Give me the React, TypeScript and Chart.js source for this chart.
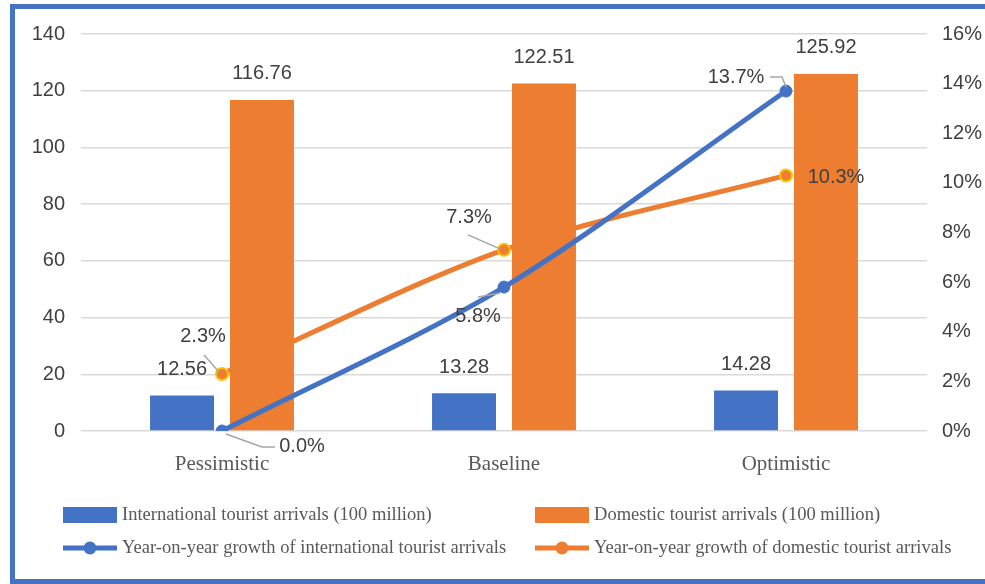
import React, { useEffect, useRef } from "react";
import { Chart, registerables } from "chart.js";
Chart.register(...registerables);

const categories = ["Pessimistic", "Baseline", "Optimistic"];
const internationalArrivals = [12.56, 13.28, 14.28];
const domesticArrivals = [116.76, 122.51, 125.92];
const internationalGrowth = [0.0, 5.8, 13.7];
const domesticGrowth = [2.3, 7.3, 10.3];
const seriesNames = [
  "International tourist arrivals (100 million)",
  "Domestic tourist arrivals (100 million)",
  "Year-on-year growth of international tourist arrivals",
  "Year-on-year growth of domestic tourist arrivals",
];
const leftAxis = { min: 0, max: 140, step: 20 };
const rightAxis = { min: 0, max: 16, step: 2 };

const BLUE = "#4472C4";
const ORANGE = "#ED7D31";
const YELLOW = "#FFC000";
const LABEL = "#404040";
const GREY = "#595959";
const LEADER = "#A6A6A6";

// label placement relative to the point: [dx, dy, leader polyline offsets]
const lineLabelPlacement: Record<number, Array<[number, number, Array<[number, number]>]>> = {
  2: [
    [80, 15, [[4, 3], [40, 16], [53, 16]]],
    [-26, 29, [[-26, 10], [-4, 6]]],
    [-50, -14, [[-16, -14], [-4, -14], [0, -4]]],
  ],
  3: [
    [-19, -37, [[-18, -19], [-3, -2]]],
    [-35, -32, [[-36, -15], [-4, -1]]],
    [50, 2, []],
  ],
};

const labelPlugin = {
  id: "customLabels",
  afterDatasetsDraw(chart: any) {
    const ctx = chart.ctx;
    ctx.save();
    ctx.font = '20px "Liberation Sans", Arial, sans-serif';
    ctx.fillStyle = LABEL;
    ctx.textAlign = "center";
    ctx.textBaseline = "middle";
    [0, 1].forEach((di) => {
      const meta = chart.getDatasetMeta(di);
      const data = chart.data.datasets[di].data;
      meta.data.forEach((el: any, i: number) => {
        ctx.fillText(Number(data[i]).toFixed(2), el.x, el.y - 26);
      });
    });
    [2, 3].forEach((di) => {
      const meta = chart.getDatasetMeta(di);
      const data = chart.data.datasets[di].data;
      meta.data.forEach((el: any, i: number) => {
        const [dx, dy, leader] = lineLabelPlacement[di][i];
        if (leader.length) {
          ctx.save();
          ctx.strokeStyle = LEADER;
          ctx.lineWidth = 1.5;
          ctx.beginPath();
          leader.forEach(([lx, ly], k) => {
            if (k === 0) ctx.moveTo(el.x + lx, el.y + ly);
            else ctx.lineTo(el.x + lx, el.y + ly);
          });
          ctx.stroke();
          ctx.restore();
        }
        ctx.fillText(Number(data[i]).toFixed(1) + "%", el.x + dx, el.y + dy);
      });
    });
    ctx.restore();
  },
  afterDraw(chart: any) {
    const ctx = chart.ctx;
    ctx.save();
    const cols = [63, 535];
    const rows = [515, 548];
    const sw = 54;
    chart.data.datasets.forEach((ds: any, i: number) => {
      const x = cols[i % 2];
      const y = rows[Math.floor(i / 2)];
      if (ds.type === "bar") {
        ctx.fillStyle = ds.backgroundColor;
        ctx.fillRect(x, y - 8, sw, 16);
      } else {
        ctx.strokeStyle = ds.borderColor;
        ctx.lineWidth = 5;
        ctx.beginPath();
        ctx.moveTo(x, y);
        ctx.lineTo(x + sw, y);
        ctx.stroke();
        ctx.beginPath();
        ctx.arc(x + sw / 2, y, 6.5, 0, Math.PI * 2);
        ctx.fillStyle = ds.pointBackgroundColor;
        ctx.fill();
      }
      ctx.font = '19px "Liberation Serif", "Times New Roman", serif';
      ctx.fillStyle = GREY;
      ctx.textAlign = "left";
      ctx.textBaseline = "middle";
      ctx.save();
      ctx.translate(x + sw + 5, y);
      ctx.scale(0.975, 1);
      ctx.fillText(ds.label, 0, 0);
      ctx.restore();
    });
    ctx.restore();
  },
};

export default function App() {
  const ref = useRef<HTMLCanvasElement>(null);
  useEffect(() => {
    if (!ref.current) return;
    const chart = new Chart(ref.current, {
      type: "bar",
      data: {
        labels: categories,
        datasets: [
          {
            type: "bar",
            label: seriesNames[0],
            data: internationalArrivals,
            backgroundColor: BLUE,
            yAxisID: "y",
            order: 3,
            categoryPercentage: 0.567,
            barPercentage: 0.8,
          },
          {
            type: "bar",
            label: seriesNames[1],
            data: domesticArrivals,
            backgroundColor: ORANGE,
            yAxisID: "y",
            order: 3,
            categoryPercentage: 0.567,
            barPercentage: 0.8,
          },
          {
            type: "line",
            label: seriesNames[2],
            data: internationalGrowth,
            borderColor: BLUE,
            backgroundColor: BLUE,
            pointBackgroundColor: BLUE,
            pointBorderColor: BLUE,
            pointRadius: 6,
            pointBorderWidth: 1,
            borderWidth: 5,
            tension: 0.3,
            yAxisID: "y1",
            order: 1,
          },
          {
            type: "line",
            label: seriesNames[3],
            data: domesticGrowth,
            borderColor: ORANGE,
            backgroundColor: ORANGE,
            pointBackgroundColor: ORANGE,
            pointBorderColor: YELLOW,
            pointRadius: 6,
            pointBorderWidth: 2,
            borderWidth: 5,
            tension: 0.3,
            yAxisID: "y1",
            order: 2,
          },
        ] as any,
      },
      options: {
        responsive: false,
        animation: false,
        devicePixelRatio: 1,
        layout: { padding: { top: 34, bottom: 103, left: 0, right: 0 } },
        plugins: { legend: { display: false }, tooltip: { enabled: false } },
        scales: {
          x: {
            offset: true,
            grid: { display: false, drawTicks: false },
            border: { display: false },
            ticks: {
              color: GREY,
              padding: 21,
              font: { family: '"Liberation Serif", "Times New Roman", serif', size: 21 },
            },
            afterFit: (s: any) => {
              s.height = 50;
            },
          },
          y: {
            position: "left",
            min: leftAxis.min,
            max: leftAxis.max,
            grid: { color: "#D9D9D9", lineWidth: 1.5, drawTicks: false },
            border: { display: false },
            ticks: {
              stepSize: leftAxis.step,
              color: LABEL,
              padding: 16,
              font: { family: '"Liberation Sans", Arial, sans-serif', size: 20 },
            },
            afterFit: (s: any) => {
              s.width = 81;
            },
          },
          y1: {
            position: "right",
            min: rightAxis.min,
            max: rightAxis.max,
            grid: { display: false, drawTicks: false },
            border: { display: false },
            ticks: {
              stepSize: rightAxis.step,
              color: LABEL,
              padding: 15,
              callback: (v: any) => v + "%",
              font: { family: '"Liberation Sans", Arial, sans-serif', size: 20 },
            },
            afterFit: (s: any) => {
              s.width = 58;
            },
          },
        },
      },
      plugins: [labelPlugin],
    });
    return () => chart.destroy();
  }, []);

  return (
    <div
      style={{
        position: "fixed",
        left: 0,
        top: 0,
        width: 985,
        height: 584,
        overflow: "hidden",
        background: "#fff",
      }}
    >
      <canvas
        ref={ref}
        width={985}
        height={584}
        style={{ position: "absolute", left: 0, top: 0, width: 985, height: 584 }}
      />
      <div
        style={{
          position: "absolute",
          left: 10,
          top: 4,
          width: 1000,
          height: 570,
          borderLeft: `5px solid ${BLUE}`,
          borderTop: `5px solid ${BLUE}`,
          borderBottom: `5px solid ${BLUE}`,
          pointerEvents: "none",
        }}
      />
    </div>
  );
}
